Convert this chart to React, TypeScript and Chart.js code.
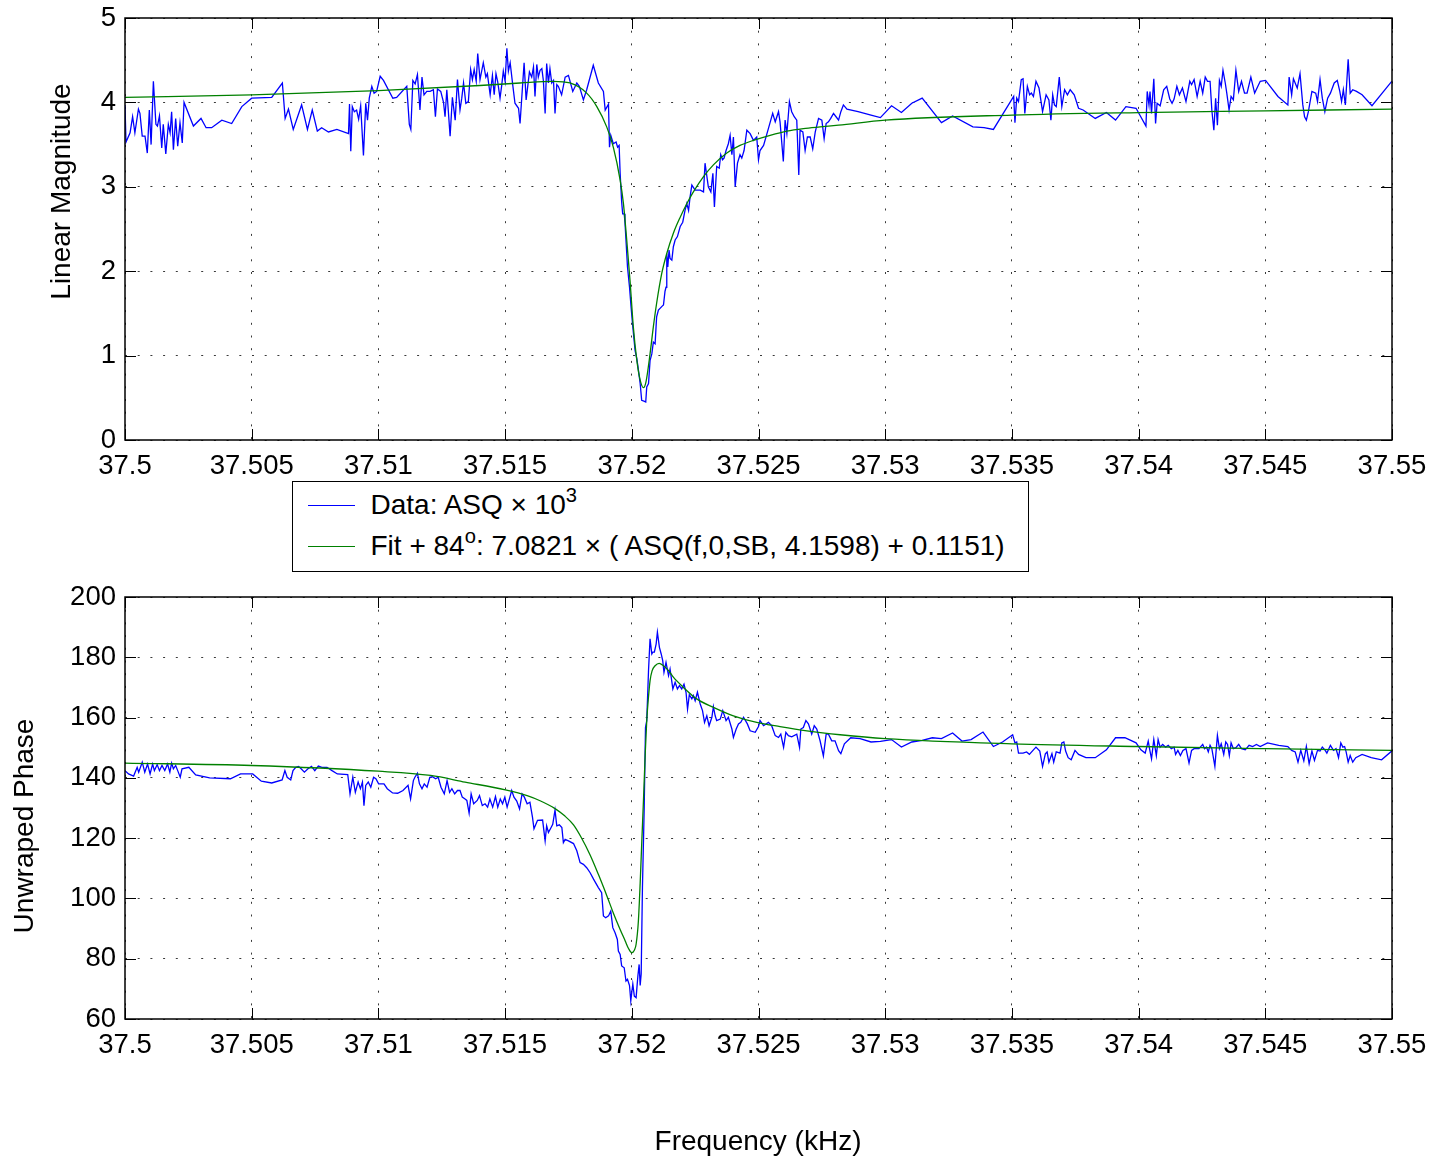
import React, { useEffect, useRef } from 'react';
import { Chart, registerables } from 'chart.js';

Chart.register(...registerables);

const FONT = '"Liberation Sans", Arial, Helvetica, sans-serif';

// ---- ticks ----
const xTicks = [37.5, 37.505, 37.51, 37.515, 37.52, 37.525, 37.53, 37.535, 37.54, 37.545, 37.55];
const magTicks = [0, 1, 2, 3, 4, 5];
const phaseTicks = [60, 80, 100, 120, 140, 160, 180, 200];

// ---- labels ----
const magTitle = 'Linear Magnitude';
const phaseTitle = 'Unwraped Phase';
const freqTitle = 'Frequency (kHz)';

// ---- magnitude data (kHz, linear magnitude) ----
const magFreq = [
  37.5, 37.50004, 37.5002, 37.5003, 37.50039, 37.50053, 37.50059, 37.50068, 37.50079, 37.50088,
  37.50096, 37.50103, 37.50112, 37.50122, 37.50128, 37.50136, 37.50145, 37.50151, 37.50161, 37.50171,
  37.50178, 37.50184, 37.50191, 37.502, 37.50208, 37.50217, 37.50226, 37.50233, 37.5027, 37.503,
  37.5032, 37.50342, 37.50382, 37.50421, 37.50461, 37.505, 37.50579, 37.50621, 37.50632, 37.50645,
  37.50664, 37.50697, 37.5072, 37.50739, 37.50759, 37.50776, 37.50803, 37.50836, 37.50882, 37.50886,
  37.50891, 37.50897, 37.50905, 37.50914, 37.50922, 37.5093, 37.50941, 37.5095, 37.50957, 37.50964,
  37.50974, 37.50983, 37.50993, 37.51007, 37.5102, 37.51057, 37.51072, 37.51112, 37.51122, 37.51128,
  37.51136, 37.51145, 37.51154, 37.51164, 37.51172, 37.5118, 37.51191, 37.51204, 37.51217, 37.51225,
  37.51233, 37.51246, 37.51257, 37.51263, 37.5127, 37.51283, 37.51292, 37.51303, 37.51312, 37.51322,
  37.51329, 37.51336, 37.51345, 37.51355, 37.51364, 37.51371, 37.51378, 37.51386, 37.51392, 37.51401,
  37.51414, 37.51424, 37.5143, 37.51441, 37.5145, 37.51457, 37.51464, 37.51471, 37.5148, 37.51487,
  37.51493, 37.515, 37.51507, 37.51513, 37.5152, 37.5153, 37.51539, 37.51553,
  37.51559, 37.51575, 37.51583, 37.51596, 37.51605, 37.51612, 37.51618, 37.51625, 37.51631, 37.51638,
  37.51645, 37.51651, 37.51658, 37.51664, 37.51671, 37.51677, 37.51684, 37.51691, 37.51697, 37.51704,
  37.5171, 37.51723, 37.51737, 37.5175, 37.51767, 37.51783, 37.51793, 37.51809, 37.51822, 37.51848,
  37.51868, 37.51888, 37.51895, 37.51908, 37.51912, 37.51917, 37.51927, 37.51938, 37.51944, 37.5195,
  37.51954, 37.5196, 37.51964, 37.5197, 37.51973, 37.51977, 37.51983, 37.51991, 37.51997, 37.52004,
  37.52013, 37.5202, 37.52026, 37.52033, 37.52039, 37.52048, 37.52055, 37.52059, 37.52066, 37.52072,
  37.52079, 37.52085, 37.52092, 37.52098, 37.52105, 37.52118, 37.52125, 37.52131, 37.52135, 37.52138,
  37.52142, 37.52147, 37.52151, 37.52158, 37.52164, 37.52171, 37.5218, 37.52191, 37.52201, 37.5221,
  37.52217, 37.52224, 37.5223, 37.52237, 37.5225, 37.5227, 37.52283, 37.52289, 37.52302, 37.52312,
  37.5232, 37.52326, 37.52335, 37.52345, 37.52351, 37.52358, 37.52364, 37.52372, 37.52381, 37.52388,
  37.52395, 37.52401, 37.52408, 37.52417, 37.52427, 37.52434, 37.52443, 37.52454, 37.52467, 37.5248,
  37.52493, 37.525, 37.52506, 37.5252, 37.52539, 37.52556, 37.52566, 37.52579, 37.52585, 37.52598,
  37.52605, 37.52612, 37.52622, 37.52631, 37.52641, 37.52651, 37.52659, 37.52664, 37.52675, 37.52684,
  37.52693, 37.52704, 37.52714, 37.52724, 37.52737, 37.5275, 37.52759, 37.52767, 37.52776, 37.52785,
  37.52796, 37.52806, 37.52816,
  37.52825, 37.52835, 37.52849, 37.52893, 37.52944, 37.52981, 37.53025, 37.53064, 37.53105, 37.53146,
  37.53222, 37.53266, 37.53346, 37.5339, 37.53427, 37.53507, 37.53512, 37.53519, 37.53526, 37.53537,
  37.53544, 37.53551, 37.53561, 37.5357, 37.53577, 37.53585, 37.53595, 37.53607, 37.53621, 37.53635,
  37.53646, 37.53654, 37.53661, 37.53668, 37.53675, 37.53687, 37.53697, 37.53708, 37.53719, 37.5373,
  37.53746, 37.53763, 37.53781, 37.53829, 37.53873, 37.53909, 37.5395, 37.5399, 37.54029, 37.54034,
  37.54041, 37.54045, 37.54051, 37.5406, 37.54067, 37.54073, 37.54085, 37.54099, 37.54111, 37.54123,
  37.54132, 37.5414, 37.54151, 37.54161, 37.54173, 37.54187, 37.54202, 37.54209, 37.54219, 37.54231,
  37.54243, 37.54253, 37.54263, 37.54272, 37.54282, 37.54289, 37.54297, 37.54304, 37.54311, 37.54319,
  37.54326, 37.54333, 37.54342, 37.54348, 37.54357, 37.54365, 37.54374, 37.54384, 37.54395, 37.54406,
  37.54418, 37.54428, 37.54443, 37.54458, 37.5448, 37.54501, 37.5455, 37.54589, 37.54594, 37.54604,
  37.54611, 37.54626, 37.54637, 37.54648, 37.54655, 37.54662, 37.5467, 37.54684, 37.54699, 37.54706,
  37.54716, 37.54725, 37.54735, 37.54746, 37.54757, 37.54772, 37.54784, 37.54794, 37.54801, 37.54808,
  37.54816, 37.54827, 37.54835, 37.54845, 37.5486, 37.54882, 37.54921, 37.54999,
];
const magValue = [
  3.97, 3.53, 3.64, 3.83, 3.64, 3.92, 3.87, 3.60, 3.60, 3.40,
  3.91, 3.50, 4.25, 3.74, 3.72, 3.84, 3.46, 3.74, 3.39, 3.74,
  3.64, 3.89, 3.44, 3.81, 3.48, 3.76, 3.52, 4.00, 3.72, 3.81,
  3.70, 3.70, 3.79, 3.75, 3.95, 4.05, 4.06, 4.23, 3.81, 3.92,
  3.68, 3.97, 3.68, 3.91, 3.66, 3.70, 3.65, 3.68, 3.63, 3.98,
  3.42, 3.95, 3.89, 3.91, 3.80, 3.96, 3.37, 3.99, 3.79, 4.05,
  4.19, 4.11, 4.13, 4.31, 4.26, 4.05, 4.06, 4.19, 3.74, 3.68,
  4.26, 4.22, 4.33, 3.91, 4.30, 4.09, 4.13, 4.13, 4.15, 3.83,
  4.16, 4.13, 4.00, 3.83, 4.15, 3.60, 4.06, 3.79, 4.27, 3.91,
  4.05, 4.23, 3.99, 4.01, 4.39, 4.27, 4.39, 4.25, 4.58, 4.27,
  4.47, 4.30, 4.34, 4.09, 4.32, 4.09, 4.34, 4.24, 4.05, 4.21,
  4.37, 4.25, 4.64, 4.37, 4.47, 4.21, 3.99, 3.93,
  3.75, 4.47, 4.03, 4.36, 4.30, 4.42, 4.07, 4.45, 4.30, 4.38,
  4.40, 4.26, 3.87, 4.46, 4.23, 4.40, 4.23, 4.26, 3.87, 4.21,
  4.19, 4.09, 4.30, 4.32, 4.13, 4.23, 4.19, 4.03, 4.15, 4.44,
  4.23, 4.13, 3.91, 3.98, 3.47, 3.61, 3.51, 3.53, 3.47, 3.49,
  3.16, 2.82, 2.68, 2.68, 2.58, 2.37, 2.05, 1.81, 1.58, 1.34,
  1.06, 0.96, 0.83, 0.67, 0.47, 0.46, 0.45, 0.63, 0.67, 0.94,
  1.02, 1.16, 1.14, 1.46, 1.54, 1.58, 1.60, 1.76, 1.81, 2.21,
  2.05, 2.25, 2.15, 2.13, 2.29, 2.37, 2.41, 2.53, 2.58, 2.72,
  2.80, 2.72, 2.88, 3.02, 2.96, 2.96, 2.94, 3.28, 3.00, 2.94,
  3.16, 2.76, 3.24, 3.22, 3.38, 3.32, 3.34, 3.43, 3.51, 3.61,
  3.38, 3.59, 3.00, 3.28, 3.38, 3.34, 3.43, 3.67, 3.63, 3.55,
  3.59, 3.32, 3.43, 3.49, 3.69, 3.87, 3.77, 3.89, 3.77, 3.30,
  3.79, 3.63, 4.01, 3.89, 3.83, 3.79, 3.14, 3.67, 3.65, 3.43,
  3.59, 3.59, 3.45, 3.65, 3.81, 3.79, 3.57, 3.75, 3.77, 3.81,
  3.87, 3.83, 3.79,
  3.89, 3.97, 3.92, 3.89, 3.85, 3.82, 3.96, 3.88, 3.99, 4.05,
  3.76, 3.84, 3.71, 3.70, 3.68, 4.07, 3.76, 4.05, 4.01, 4.27,
  4.28, 3.87, 4.19, 4.09, 4.11, 4.07, 4.25, 4.17, 3.89, 4.09,
  4.03, 3.79, 4.09, 3.97, 3.95, 4.30, 3.95, 4.15, 4.09, 4.15,
  4.09, 3.93, 3.91, 3.81, 3.88, 3.79, 3.95, 3.93, 3.72, 4.13,
  3.97, 4.13, 3.87, 4.28, 3.75, 3.99, 3.96, 4.15, 4.19, 4.04,
  3.99, 4.04, 4.19, 4.09, 4.17, 4.01, 4.25, 4.21, 4.27, 4.07,
  4.25, 4.11, 4.30, 4.25, 4.25, 3.91, 3.67, 4.05, 3.73, 4.26,
  4.19, 4.38, 4.23, 4.11, 3.91, 4.07, 4.03, 4.38, 4.13, 4.25,
  4.11, 4.11, 4.30, 4.11, 4.25, 4.26, 4.07, 3.97, 4.30, 4.09,
  4.28, 4.17, 4.34, 3.97, 3.83, 3.79, 3.89, 4.13, 4.11, 4.01,
  4.27, 4.05, 3.89, 4.05, 4.11, 4.23, 4.26, 4.13, 4.01, 4.15,
  3.97, 4.51, 4.11, 4.15, 4.13, 4.09, 3.96, 4.25,
];

// ---- magnitude fit ----
const magFitFreq = [
  37.5, 37.505, 37.51, 37.514, 37.51559, 37.5169, 37.51756, 37.51822, 37.51862, 37.51901,
  37.51927, 37.51954, 37.51967, 37.5198, 37.51993, 37.52006, 37.5202, 37.52033, 37.52046, 37.52056,
  37.52072, 37.52085, 37.52098, 37.52118, 37.52138, 37.52164, 37.52191, 37.52217, 37.52243, 37.52283,
  37.52322, 37.52375, 37.52427, 37.5248, 37.52546, 37.52612, 37.52677, 37.52743, 37.52816, 37.53,
  37.535, 37.54, 37.545, 37.55,
];
const magFitValue = [
  4.06, 4.09, 4.14, 4.20, 4.23, 4.25, 4.23, 4.11, 3.95, 3.71,
  3.47, 3.08, 2.80, 2.37, 1.89, 1.34, 0.94, 0.71, 0.62, 0.69,
  1.02, 1.34, 1.62, 1.97, 2.21, 2.45, 2.64, 2.80, 2.94, 3.12,
  3.26, 3.40, 3.49, 3.55, 3.61, 3.66, 3.69, 3.71, 3.73, 3.79,
  3.85, 3.88, 3.90, 3.92,
];

// ---- phase data (kHz, degrees) ----
const phaseFreq = [
  37.5, 37.50014, 37.50034, 37.50048, 37.50054, 37.50068, 37.50078, 37.50089, 37.50099, 37.50109,
  37.50116, 37.50127, 37.50136, 37.50146, 37.50157, 37.50168, 37.50177, 37.50184, 37.50191, 37.502,
  37.50208, 37.50218, 37.50225, 37.50252, 37.50279, 37.50334, 37.50416, 37.50456, 37.50504, 37.50538,
  37.50579, 37.5062, 37.50631, 37.5064, 37.50654, 37.50663, 37.50674, 37.50685, 37.50695, 37.50708,
  37.50722, 37.50736, 37.50749, 37.50763, 37.50777, 37.50797, 37.50817, 37.50838, 37.50879, 37.50888,
  37.50899, 37.50909, 37.5092, 37.50929, 37.50937, 37.50943, 37.5095, 37.5096, 37.5097, 37.50981,
  37.5099, 37.51001, 37.51022, 37.51035, 37.51056, 37.51076, 37.51097, 37.51117, 37.51127, 37.51138,
  37.51144, 37.51154, 37.51162, 37.51172, 37.51181, 37.51192, 37.51203, 37.51213, 37.51226, 37.51236,
  37.51247, 37.5126, 37.51271, 37.51281, 37.5129, 37.51301, 37.51312, 37.51322, 37.51331, 37.51342,
  37.51349, 37.51358, 37.51366, 37.51376, 37.5139, 37.51399, 37.5141, 37.51421, 37.51431, 37.5144,
  37.51451, 37.51462, 37.51471, 37.51481, 37.5149, 37.51499, 37.51508, 37.51519, 37.51526, 37.51535,
  37.51546, 37.51557, 37.51567, 37.51576, 37.51587, 37.51598, 37.51608, 37.51614, 37.51628,
  37.51648, 37.51658, 37.51664, 37.51671, 37.5168, 37.51688, 37.51697, 37.51704, 37.51714, 37.51724,
  37.5173, 37.51737, 37.5175, 37.5177, 37.51783, 37.51796, 37.51809, 37.51822, 37.51835, 37.51849,
  37.51868, 37.51881, 37.51888, 37.51897, 37.51908, 37.51917, 37.51925, 37.51934, 37.51943, 37.51947,
  37.51954, 37.5196, 37.5197, 37.51977, 37.51983, 37.51991, 37.51996, 37.52004, 37.5201, 37.52017,
  37.52024, 37.52029, 37.52033, 37.52037, 37.52042, 37.52049, 37.52054, 37.52059, 37.52066, 37.52072,
  37.52079, 37.52083, 37.52089, 37.52096, 37.52101, 37.52109, 37.52116, 37.52122, 37.52127, 37.52135,
  37.52145, 37.52151, 37.52162, 37.52171, 37.5218, 37.52188, 37.52197, 37.52206, 37.52214, 37.5222,
  37.52227, 37.52237, 37.52243, 37.5225, 37.52259, 37.5227, 37.52279, 37.52287, 37.52296, 37.52305,
  37.52316, 37.52322, 37.52329, 37.52335, 37.52349, 37.52359, 37.52372, 37.52381, 37.52395, 37.52401,
  37.52412, 37.52421, 37.5243, 37.52441, 37.52456, 37.52467, 37.52487, 37.525, 37.52506, 37.5252,
  37.52539, 37.52552, 37.52566, 37.52579, 37.52588, 37.52599, 37.52608, 37.52618, 37.52631, 37.52651,
  37.52662, 37.52667, 37.52677, 37.52687, 37.52697, 37.5271, 37.5272, 37.5273, 37.52743, 37.52756,
  37.52767, 37.52776, 37.52789, 37.52802, 37.52816,
  37.52825, 37.52839, 37.52864, 37.52901, 37.52944, 37.52981, 37.53025, 37.53064, 37.53105, 37.53146,
  37.53186, 37.53222, 37.53266, 37.53303, 37.53339, 37.53386, 37.53427, 37.53463, 37.53503, 37.53512,
  37.53519, 37.53526, 37.53544, 37.53558, 37.53569, 37.53585, 37.53595, 37.5361, 37.53621, 37.53632,
  37.53639, 37.53646, 37.53658, 37.53665, 37.53675, 37.5369, 37.53697, 37.53705, 37.53712, 37.53722,
  37.53734, 37.53749, 37.53763, 37.53792, 37.53829, 37.53873, 37.53909, 37.53946, 37.5399, 37.54009,
  37.54026, 37.54038, 37.54045, 37.54051, 37.5406, 37.5407, 37.54077, 37.54085, 37.54095, 37.54107,
  37.54117, 37.54129, 37.5414, 37.54146, 37.54155, 37.54165, 37.54175, 37.54187, 37.54199, 37.54209,
  37.54219, 37.54238, 37.54253, 37.5426, 37.54268, 37.54275, 37.54282, 37.54289, 37.54301, 37.54311,
  37.54319, 37.54326, 37.54336, 37.54344, 37.54351, 37.54358, 37.54365, 37.54374, 37.54384, 37.54395,
  37.54406, 37.54421, 37.54436, 37.5445, 37.54465, 37.5448, 37.54509, 37.54553, 37.54589, 37.54604,
  37.54618, 37.54629, 37.5464, 37.54652, 37.54662, 37.54673, 37.54684, 37.54694, 37.54706, 37.54716,
  37.54725, 37.54735, 37.54743, 37.54757, 37.54769, 37.54779, 37.54789, 37.54798, 37.54806, 37.54813,
  37.54819, 37.54827, 37.54835, 37.54845, 37.54857, 37.54882, 37.54918, 37.54959, 37.54999,
];
const phaseValue = [
  142.4, 141.3, 140.6, 143.5, 141.9, 145.2, 141.9, 144.6, 141.3, 144.6,
  142.4, 144.4, 142.4, 144.1, 142.4, 144.6, 141.9, 144.9, 143.0, 144.1,
  142.4, 140.2, 143.0, 143.5, 141.0, 140.0, 139.7, 141.3, 141.3, 138.9,
  138.3, 139.3, 142.4, 140.2, 139.3, 142.4, 143.5, 143.8, 143.0, 141.9,
  143.0, 143.8, 142.4, 143.9, 143.5, 143.5, 142.4, 141.3, 141.1, 134.7,
  140.2, 135.2, 138.6, 136.4, 138.6, 130.8, 137.5, 138.6, 136.9, 140.2,
  139.7, 138.0, 138.0, 136.4, 135.0, 134.9, 135.8, 137.5, 133.0, 139.1,
  140.2, 141.5, 138.0, 136.4, 138.0, 136.9, 140.2, 140.4, 139.7, 140.2,
  136.9, 134.7, 139.1, 135.2, 136.4, 134.7, 135.8, 135.8, 133.6, 133.0,
  132.5, 128.3, 134.7, 131.4, 132.5, 134.1, 130.8, 131.4, 130.3, 133.0,
  130.3, 133.8, 130.3, 133.0, 131.4, 133.6, 130.3, 133.6, 135.8, 133.6,
  132.3, 129.7, 134.7, 133.6, 131.4, 131.9, 127.0, 123.1, 125.9,
  126.0, 119.1, 124.1, 121.9, 123.3, 124.6, 129.3, 124.1, 124.4, 123.5,
  118.5, 119.6, 119.1, 118.2, 115.8, 111.9, 111.3, 110.2, 108.6, 106.4,
  103.6, 101.9, 94.2, 93.6, 94.2, 95.8, 90.3, 88.6, 86.4, 82.5,
  81.4, 77.6, 77.0, 72.6, 73.2, 71.1, 66.0, 71.6, 67.6, 67.1,
  74.3, 78.1, 71.1, 74.9, 103.6, 130.2, 156.7, 159.0, 175.6, 186.1,
  181.1, 181.7, 181.7, 184.4, 188.3, 183.3, 181.1, 178.9, 175.0, 178.3,
  173.9, 176.1, 169.5, 171.7, 169.5, 170.6, 169.5, 171.1, 168.4, 162.8,
  167.6, 166.2, 167.3, 165.6, 168.4, 164.5, 162.3, 158.4, 160.6, 157.3,
  160.1, 163.6, 160.6, 159.0, 159.5, 162.3, 159.0, 160.1, 156.2, 153.4,
  156.2, 157.9, 158.4, 160.1, 157.9, 155.6, 155.1, 157.0, 159.0, 157.3,
  158.4, 157.3, 154.0, 153.4, 154.5, 150.1, 155.1, 154.0, 153.6, 154.5,
  150.1, 156.2, 156.7, 159.0, 157.9, 154.5, 157.3, 156.2, 152.3, 147.3,
  154.5, 154.5, 152.3, 152.3, 149.0,
  148.0, 151.3, 153.3, 153.0, 151.9, 152.1, 152.7, 150.2, 151.9, 152.4,
  153.3, 153.0, 154.9, 152.2, 152.7, 155.2, 150.4, 151.9, 154.3, 151.6,
  151.9, 148.2, 148.2, 148.6, 147.8, 149.3, 150.2, 148.9, 143.8, 148.0,
  148.6, 145.2, 148.0, 145.2, 148.6, 148.2, 151.6, 151.9, 148.9, 146.7,
  146.0, 149.1, 147.8, 146.7, 146.7, 149.3, 153.3, 153.3, 151.6, 149.3,
  148.2, 152.2, 148.9, 146.3, 152.7, 147.4, 152.7, 150.2, 151.1, 150.2,
  150.8, 149.7, 150.2, 147.8, 149.1, 147.4, 149.1, 149.7, 144.9, 149.1,
  149.7, 149.7, 151.1, 149.7, 150.2, 148.6, 150.8, 149.7, 143.8, 154.1,
  149.7, 151.3, 147.8, 151.9, 151.1, 147.4, 151.6, 149.7, 150.0, 151.1,
  149.7, 149.3, 150.8, 150.4, 151.1, 150.4, 151.6, 150.8, 150.4, 149.1,
  148.6, 145.2, 149.1, 145.6, 150.4, 144.7, 148.9, 145.8, 149.1, 148.9,
  150.2, 149.3, 148.2, 150.8, 149.1, 149.7, 146.7, 151.6, 150.2, 150.4,
  148.6, 145.2, 147.4, 145.2, 146.7, 147.8, 146.7, 146.0, 148.9,
];

// ---- phase fit ----
const phaseFitFreq = [
  37.5, 37.505, 37.51, 37.51206, 37.51342, 37.51501, 37.51587, 37.51638, 37.51697, 37.51735,
  37.5177, 37.518, 37.51835, 37.51868, 37.51901, 37.51927, 37.51954, 37.51974, 37.51987, 37.52,
  37.5201, 37.52017, 37.52026, 37.52033, 37.5204, 37.52046, 37.52053, 37.52059, 37.52066, 37.52072,
  37.5208, 37.52092, 37.52108, 37.52125, 37.52145, 37.52164, 37.52204, 37.52256, 37.52322, 37.52401,
  37.52493, 37.52585, 37.52691, 37.52822, 37.53, 37.535, 37.54, 37.545, 37.55,
];
const phaseFitValue = [
  144.9, 144.1, 142.2, 140.8, 138.6, 136.0, 134.1, 132.4, 129.8, 127.4,
  124.4, 120.3, 114.5, 108.0, 101.0, 95.2, 89.7, 85.9, 83.4, 82.0,
  82.8, 84.8, 92.5, 105.0, 120.0, 132.4, 148.0, 159.0, 167.0, 172.2,
  175.5, 177.2, 178.0, 177.2, 175.6, 173.4, 170.0, 166.2, 163.4, 160.6,
  158.4, 157.0, 155.6, 154.3, 153.0, 151.3, 150.4, 149.7, 149.1,
];

// ---- legend labels ----
const legendData = { main: 'Data: ASQ × 10', sup: '3', rest: '' };
const legendFit = { main: 'Fit + 84', sup: 'o', rest: ': 7.0821 × ( ASQ(f,0,SB, 4.1598) + 0.1151)' };

const toPoints = (xs: number[], ys: number[]) => xs.map((x, i) => ({ x, y: ys[i] }));

const framePlugin = {
  id: 'matlabFrame',
  afterDraw(chart: any, _args: any, opts: any) {
    const { ctx, chartArea: a, scales } = chart;
    const xs = scales.x;
    const ys = scales.y;
    ctx.save();
    ctx.strokeStyle = '#000';
    ctx.lineWidth = 1;
    const tl = 11;
    ctx.beginPath();
    xs.ticks.forEach((t: any) => {
      const px = Math.round(xs.getPixelForValue(t.value)) + 0.5;
      ctx.moveTo(px, a.bottom);
      ctx.lineTo(px, a.bottom - tl);
      ctx.moveTo(px, a.top);
      ctx.lineTo(px, a.top + tl);
    });
    ys.ticks.forEach((t: any) => {
      const py = Math.round(ys.getPixelForValue(t.value)) + 0.5;
      ctx.moveTo(a.left, py);
      ctx.lineTo(a.left + tl, py);
      ctx.moveTo(a.right, py);
      ctx.lineTo(a.right - tl, py);
    });
    ctx.stroke();
    ctx.lineWidth = 1.5;
    ctx.strokeRect(a.left, a.top, a.right - a.left, a.bottom - a.top);
    ctx.fillStyle = '#000';
    ctx.font = `28px ${FONT}`;
    ctx.textBaseline = 'alphabetic';
    ctx.textAlign = 'center';
    if (opts.yTitle) {
      ctx.save();
      ctx.translate(opts.yTitleX, opts.yTitleY);
      ctx.rotate(-Math.PI / 2);
      ctx.fillText(opts.yTitle, 0, 0);
      ctx.restore();
    }
    if (opts.xTitle) {
      ctx.fillText(opts.xTitle, opts.xTitleX, opts.xTitleY);
    }
    ctx.restore();
  },
};

function makeConfig(p: {
  data: any[]; fit: any[]; yMin: number; yMax: number; yTicks: number[];
  padTop: number; xAxisH: number; frame: any;
}): any {
  const tickFont = { family: FONT, size: 27.5, lineHeight: 1.2 };
  return {
    type: 'line',
    data: {
      datasets: [
        { label: 'Data', data: p.data, borderColor: '#0000ff', borderWidth: 1.3, pointRadius: 0, tension: 0, fill: false, order: 1 },
        { label: 'Fit', data: p.fit, borderColor: '#008000', borderWidth: 1.3, pointRadius: 0, cubicInterpolationMode: 'monotone', fill: false, order: 0 },
      ],
    },
    options: {
      responsive: false,
      animation: false,
      devicePixelRatio: 1,
      events: [],
      layout: { padding: { left: 0, top: p.padTop, right: 45, bottom: 0 } },
      plugins: { legend: { display: false }, tooltip: { enabled: false }, matlabFrame: p.frame },
      scales: {
        x: {
          type: 'linear',
          min: xTicks[0],
          max: xTicks[xTicks.length - 1],
          afterBuildTicks: (ax: any) => { ax.ticks = xTicks.map((v) => ({ value: v })); },
          afterFit: (ax: any) => { ax.height = p.xAxisH; ax.paddingLeft = 0; ax.paddingRight = 0; },
          ticks: { autoSkip: false, maxRotation: 0, minRotation: 0, padding: 9.5, color: '#000', font: tickFont, callback: (v: any) => String(v) },
          grid: { drawTicks: false, color: '#3a3a3a', lineWidth: 1 },
          border: { display: false, dash: [2, 10.7] },
        },
        y: {
          type: 'linear',
          min: p.yMin,
          max: p.yMax,
          afterBuildTicks: (ax: any) => { ax.ticks = p.yTicks.map((v) => ({ value: v })); },
          afterFit: (ax: any) => { ax.width = 125; ax.paddingTop = 0; ax.paddingBottom = 0; },
          ticks: { padding: 9, color: '#000', font: tickFont, callback: (v: any) => String(v) },
          grid: { drawTicks: false, color: '#3a3a3a', lineWidth: 1 },
          border: { display: false, dash: [2, 10.7] },
        },
      },
    },
    plugins: [framePlugin],
  };
}

const supStyle: React.CSSProperties = { fontSize: '0.72em', position: 'relative', top: '-0.55em' };

export default function App() {
  const topRef = useRef<HTMLCanvasElement>(null);
  const botRef = useRef<HTMLCanvasElement>(null);

  useEffect(() => {
    const c1 = new Chart(topRef.current as HTMLCanvasElement, makeConfig({
      data: toPoints(magFreq, magValue),
      fit: toPoints(magFitFreq, magFitValue),
      yMin: magTicks[0], yMax: magTicks[magTicks.length - 1], yTicks: magTicks,
      padTop: 18, xAxisH: 50,
      frame: { yTitle: magTitle, yTitleX: 70, yTitleY: 191.5 },
    }));
    const c2 = new Chart(botRef.current as HTMLCanvasElement, makeConfig({
      data: toPoints(phaseFreq, phaseValue),
      fit: toPoints(phaseFitFreq, phaseFitValue),
      yMin: phaseTicks[0], yMax: phaseTicks[phaseTicks.length - 1], yTicks: phaseTicks,
      padTop: 37, xAxisH: 141,
      frame: { yTitle: phaseTitle, yTitleX: 33, yTitleY: 266, xTitle: freqTitle, xTitleX: 758, xTitleY: 590 },
    }));
    return () => { c1.destroy(); c2.destroy(); };
  }, []);

  const rowText: React.CSSProperties = { position: 'absolute', left: 77.5, height: 34, lineHeight: '34px', whiteSpace: 'nowrap' };
  return (
    <div style={{ position: 'absolute', left: 0, top: 0, width: 1437, height: 1160, background: '#fff', fontFamily: FONT, color: '#000' }}>
      <canvas ref={topRef} width={1437} height={490} style={{ position: 'absolute', left: 0, top: 0, width: 1437, height: 490 }} />
      <canvas ref={botRef} width={1437} height={600} style={{ position: 'absolute', left: 0, top: 560, width: 1437, height: 600 }} />
      <div style={{ position: 'absolute', left: 292, top: 481, width: 737, height: 91, boxSizing: 'border-box', border: '1.5px solid #000', background: '#fff', fontSize: 28 }}>
        <div style={{ position: 'absolute', left: 14.5, top: 22.5, width: 47, borderTop: '1.3px solid #0000ff' }} />
        <div style={{ ...rowText, top: 22.5 - 17 }}>
          {legendData.main}<span style={supStyle}>{legendData.sup}</span>{legendData.rest}
        </div>
        <div style={{ position: 'absolute', left: 14.5, top: 63.5, width: 47, borderTop: '1.3px solid #008000' }} />
        <div style={{ ...rowText, top: 63.5 - 17 }}>
          {legendFit.main}<span style={supStyle}>{legendFit.sup}</span>{legendFit.rest}
        </div>
      </div>
    </div>
  );
}
